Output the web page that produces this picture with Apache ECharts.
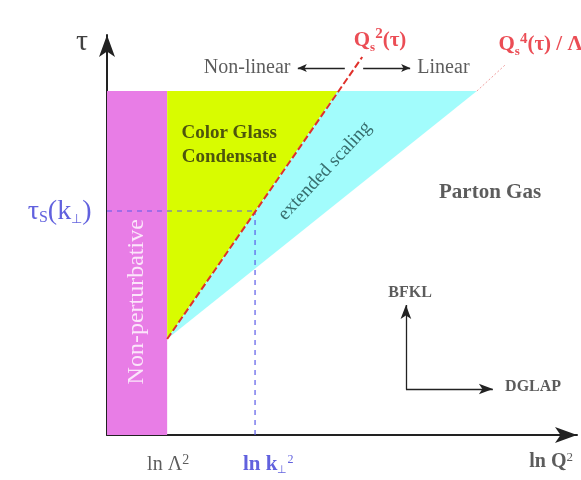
<!DOCTYPE html>
<html><head><meta charset="utf-8">
<script src="https://cdn.jsdelivr.net/npm/echarts@6/dist/echarts.min.js"></script>
<style>html,body{margin:0;padding:0;background:#fff}#c{width:581px;height:480px}</style>
</head><body><div id="c"></div>
<script>
// Region vertices in (ln Q², τ) diagram units
const nonPerturbative = [[0, 0], [1.28, 0], [1.28, 8.6], [0, 8.6]];
const colorGlassCondensate = [[1.28, 2.4], [4.91, 8.6], [1.28, 8.6]];
const extendedScaling = [[1.28, 2.4], [7.87, 8.6], [4.91, 8.6]];
// Boundary lines
const saturationLine = [[1.28, 2.4], [5.43, 9.45]];
const scalingLineExt = [[7.87, 8.6], [8.47, 9.25]];
const kPerpGuideH = [[0, 5.6], [3.15, 5.6]];
const kPerpGuideV = [[3.15, 0], [3.15, 5.6]];
// Small arrows [from, to]
const nonLinearArrow = [[5.06, 9.175], [4.06, 9.175]];
const linearArrow = [[5.45, 9.175], [6.45, 9.175]];
const bfklArrow = [[6.36, 1.15], [6.36, 3.25]];
const dglapArrow = [[6.36, 1.15], [8.21, 1.15]];
// Text anchors
const tickLabelPos = [[1.3, -0.75], [3.43, -0.75], [9.45, -0.68]];
const regionNames = ['Color Glass\nCondensate', 'extended scaling', 'Parton Gas', 'Non-perturbative'];
const regionPos = [[2.6, 7.25], [4.64, 6.6], [8.15, 6.05], [0.64, 3.33]];

const chart = echarts.init(document.getElementById('c'), null, {renderer: 'canvas'});
const serif = 'Liberation Serif';

function poly(pts, color) {
  return {
    type: 'custom', silent: true, z: 1,
    data: [0],
    renderItem: (params, api) => ({
      type: 'polygon',
      shape: {points: pts.map(p => api.coord(p))},
      style: {fill: color}
    })
  };
}
function seg(pts, color, width, type, z) {
  return {type: 'line', data: pts, symbol: 'none', silent: true, z: z || 3,
    lineStyle: {color: color, width: width, type: type}};
}
function arrows(list, size) {
  return {
    type: 'line', data: [], silent: true, z: 4,
    markLine: {
      silent: true, symbol: ['none', 'arrow'], symbolSize: size,
      label: {show: false},
      lineStyle: {color: '#222', width: 1.3, type: 'solid'},
      emphasis: {disabled: true},
      data: list.map(a => [{coord: a[0]}, {coord: a[1]}])
    }
  };
}
function txt(pos, formatter, style) {
  return {
    value: pos,
    label: Object.assign({show: true, formatter: formatter, fontFamily: serif}, style)
  };
}

const blue = '#3a3ad6', red = '#e6202a';
const texts = [
  txt([-0.53, 9.83], 'τ', {fontSize: 30, color: '#111', position: 'inside'}),
  txt([-0.32, 5.58], '{m|τ}{s|S}{m|(k}{t|⊥}{m|)}', {position: 'left', distance: 0,
    rich: {m: {fontSize: 28, color: blue, fontFamily: serif, verticalAlign: 'middle'},
           s: {fontSize: 16, color: blue, fontFamily: serif, verticalAlign: 'bottom', padding: [12, 0, 0, 0]},
           t: {fontSize: 13, color: blue, fontFamily: serif, verticalAlign: 'bottom', padding: [10, 0, 0, 0]}}}),
  txt(tickLabelPos[0], '{m|ln Λ}{p|2}', {position: 'inside',
    rich: {m: {fontSize: 20, color: '#333', fontFamily: serif}, p: {fontSize: 14, color: '#333', fontFamily: serif, verticalAlign: 'top', padding: [0, 0, 10, 0]}}}),
  txt(tickLabelPos[1], '{m|ln k}{t|⊥}{p|2}', {position: 'inside',
    rich: {m: {fontSize: 21, color: blue, fontWeight: 'bold', fontFamily: serif},
           t: {fontSize: 11, color: blue, fontFamily: serif, verticalAlign: 'bottom', padding: [10, 0, 0, 0]},
           p: {fontSize: 12, color: blue, fontFamily: serif, verticalAlign: 'top', padding: [0, 0, 10, 0]}}}),
  txt(tickLabelPos[2], '{m|ln Q}{p|2}', {position: 'inside',
    rich: {m: {fontSize: 20, color: '#333', fontWeight: 'bold', fontFamily: serif}, p: {fontSize: 13, color: '#333', fontFamily: serif, verticalAlign: 'top', padding: [0, 0, 10, 0]}}}),
  txt([5.81, 9.87], '{m|Q}{s|s}{p|2}{m|(τ)}', {position: 'inside',
    rich: {m: {fontSize: 21, color: red, fontWeight: 'bold', fontFamily: serif},
           s: {fontSize: 13, color: red, fontWeight: 'bold', fontFamily: serif, verticalAlign: 'bottom', padding: [10, 0, 0, 0]},
           p: {fontSize: 15, color: red, fontWeight: 'bold', fontFamily: serif, verticalAlign: 'top', padding: [0, 0, 12, 0]}}}),
  txt([8.32, 9.75], '{m|Q}{s|s}{p|4}{m|(τ) / Λ}', {position: 'right', distance: 0,
    rich: {m: {fontSize: 21, color: red, fontWeight: 'bold', fontFamily: serif},
           s: {fontSize: 13, color: red, fontWeight: 'bold', fontFamily: serif, verticalAlign: 'bottom', padding: [10, 0, 0, 0]},
           p: {fontSize: 15, color: red, fontWeight: 'bold', fontFamily: serif, verticalAlign: 'top', padding: [0, 0, 12, 0]}}}),
  txt([4.0, 9.175], 'Non-linear', {position: 'left', distance: 4, fontSize: 20, color: '#333'}),
  txt([6.55, 9.175], 'Linear', {position: 'right', distance: 2, fontSize: 20, color: '#333'}),
  txt(regionPos[0], regionNames[0], {position: 'inside', fontSize: 19, fontWeight: 'bold', color: '#2a2a10', lineHeight: 24}),
  txt(regionPos[1], regionNames[1], {position: 'inside', fontSize: 19, color: '#1d4a4a', rotate: 47}),
  txt(regionPos[2], regionNames[2], {position: 'inside', fontSize: 21, fontWeight: 'bold', color: '#333'}),
  txt(regionPos[3], regionNames[3], {position: 'inside', fontSize: 24, color: '#ffffff', rotate: 90}),
  txt([6.45, 3.55], 'BFKL', {position: 'inside', fontSize: 16, fontWeight: 'bold', color: '#333'}),
  txt([8.46, 1.2], 'DGLAP', {position: 'right', distance: 0, fontSize: 16, fontWeight: 'bold', color: '#333'})
];

const axisCommon = {
  type: 'value', min: 0, max: 10,
  axisLine: {show: true, onZero: false, symbol: ['none', 'arrow'], symbolSize: [12, 22], lineStyle: {color: '#222', width: 2}},
  axisTick: {show: false}, axisLabel: {show: false}, splitLine: {show: false}
};

chart.setOption({
  animation: false,
  backgroundColor: '#ffffff',
  grid: {left: 107, right: 4, top: 35, bottom: 45},
  xAxis: Object.assign({}, axisCommon),
  yAxis: Object.assign({}, axisCommon),
  series: [
    poly(nonPerturbative, '#e87de6'),
    poly(colorGlassCondensate, '#d8fc00'),
    poly(extendedScaling, '#a2fcfc'),
    seg(kPerpGuideH, '#5a5ae8', 1.2, [5, 5], 3),
    seg(kPerpGuideV, '#5a5ae8', 1.2, [5, 5], 3),
    seg(saturationLine, '#e0302a', 2, [7, 3], 4),
    seg(scalingLineExt, '#f0a0a0', 1, [2, 2], 4),
    arrows([nonLinearArrow, linearArrow], [6, 9]),
    arrows([bfklArrow, dglapArrow], [8, 14]),
    {type: 'scatter', symbolSize: 1, itemStyle: {color: 'rgba(0,0,0,0)'}, silent: true, clip: false, z: 10, data: texts}
  ]
});
</script></body></html>
